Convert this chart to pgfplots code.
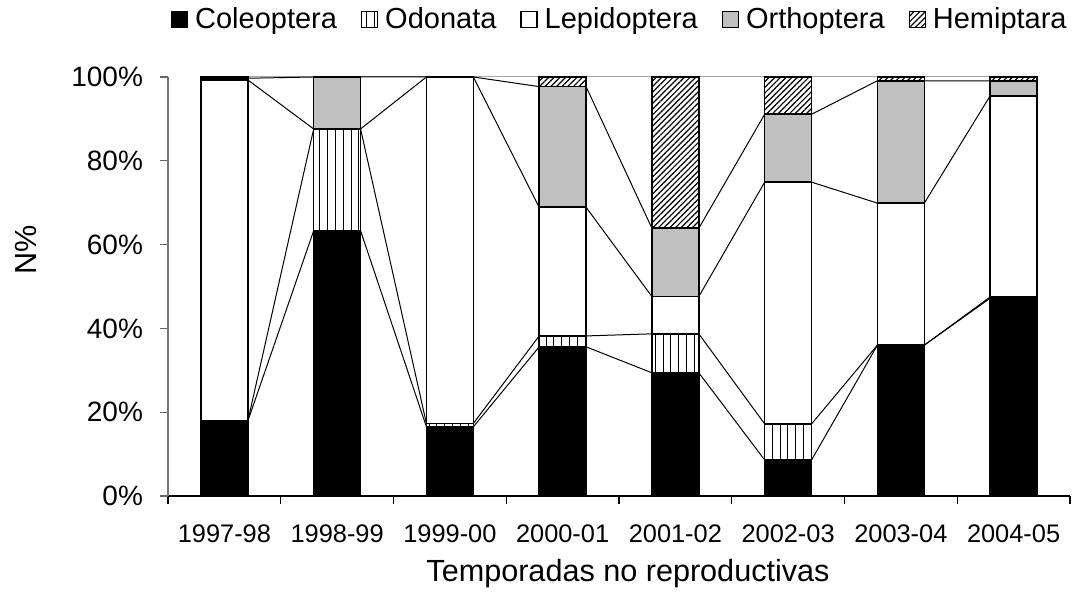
\documentclass[border=0pt]{standalone}
\usepackage{pgfplots}
\usepackage{pgfplotstable}
\pgfplotsset{compat=1.18}
\usetikzlibrary{patterns.meta}
\usepackage{fontspec}
\setmainfont{Liberation Sans}

\definecolor{orth}{HTML}{C0C0C0}

\pgfplotstableread{
x C O L Or H
0 17.9 0 81.4 0.4 0.3
1 63.3 24.3 0 12.4 0
2 16.5 0.8 82.7 0 0
3 35.6 2.6 30.7 28.8 2.3
4 29.4 9.3 8.9 16.3 36.1
5 8.6 8.6 57.7 16.2 8.9
6 36.0 0 33.9 29.2 0.9
7 47.2 0.3 48.0 3.6 0.9
}\data

% cumulative tops at the left and right edges of each bar (series lines)
\pgfplotstableread{
x c1 c2 c3 c4 c5
-0.208 17.9 17.9 99.3 99.7 100
0.208 17.9 17.9 99.3 99.7 100
0.792 63.3 87.6 87.6 100 100
1.208 63.3 87.6 87.6 100 100
1.792 16.5 17.3 100 100 100
2.208 16.5 17.3 100 100 100
2.792 35.6 38.2 68.9 97.7 100
3.208 35.6 38.2 68.9 97.7 100
3.792 29.4 38.7 47.6 63.9 100
4.208 29.4 38.7 47.6 63.9 100
4.792 8.6 17.2 74.9 91.1 100
5.208 8.6 17.2 74.9 91.1 100
5.792 36.0 36.0 69.9 99.1 100
6.208 36.0 36.0 69.9 99.1 100
6.792 47.2 47.5 95.5 99.1 100
7.208 47.2 47.5 95.5 99.1 100
}\cum

\pgfplotsset{
  common/.style={
    scale only axis,
    width=451pt, height=209.5pt,
    xmin=-0.5, xmax=7.5, ymin=0, ymax=100,
    at={(0,0)}, anchor=south west,
  }
}

\begin{document}
\begin{tikzpicture}
\useasboundingbox (-84pt,-48pt) rectangle (457pt,248pt);
% series lines
\begin{axis}[common, hide axis]
\addplot[black, line width=0.5pt] table[x=x,y=c1] {\cum};
\addplot[black, line width=0.5pt] table[x=x,y=c2] {\cum};
\addplot[black, line width=0.5pt] table[x=x,y=c3] {\cum};
\addplot[black, line width=0.5pt] table[x=x,y=c4] {\cum};
\addplot[black, line width=0.5pt] table[x=x,y=c5] {\cum};
\end{axis}
% bars
\begin{axis}[common,
  ybar stacked, bar width=0.416,
  axis x line*=bottom, axis y line*=left,
  x axis line style={-, black, line width=0.6pt},
  y axis line style={-, black!55, line width=0.6pt},
  xtick={0,...,7},
  xticklabels={1997-98,1998-99,1999-00,2000-01,2001-02,2002-03,2003-04,2004-05},
  major x tick style={draw=none},
  minor xtick={-0.5,0.5,...,7.5},
  minor x tick style={black, line width=0.6pt},
  minor tick length=4pt,
  ytick={0,20,...,100},
  major tick length=4pt,
  y tick style={black!60, line width=0.6pt},
  tick align=outside,
  /pgf/number format/assume math mode=true,
  yticklabel={\pgfmathprintnumber{\tick}\%},
  yticklabel style={font=\fontsize{14}{16}\selectfont, xshift=-5pt},
  xticklabel style={font=\fontsize{12.7}{15}\selectfont, yshift=-7pt},
  xlabel={Temporadas no reproductivas},
  ylabel={N\%},
  label style={font=\fontsize{15.3}{18}\selectfont},
  xlabel style={at={(axis description cs:0.51,-0.186)}, anchor=center},
  ylabel style={at={(axis description cs:-0.158,0.587)}, anchor=center},
  legend columns=-1,
  legend style={draw=none, fill=none, at={(0.502,1)}, anchor=south, yshift=20.5pt,
    font=\fontsize{14.5}{16}\selectfont, inner sep=0pt,
    /tikz/every odd column/.append style={column sep=1.5pt},
    /tikz/every even column/.append style={column sep=10pt}},
  legend image code/.code={\draw[#1, line width=0.6pt] (0pt,-4pt) rectangle (8pt,4pt);},
  every axis plot/.append style={draw=black, line width=0.8pt},
]
\addplot[fill=black] table[x=x,y=C] {\data};
\addplot[fill=white, postaction={pattern={Lines[angle=90,distance=3.9pt,line width=0.5pt]}}] table[x=x,y=O] {\data};
\addplot[fill=white] table[x=x,y=L] {\data};
\addplot[fill=orth] table[x=x,y=Or] {\data};
\addplot[fill=white, postaction={pattern={Lines[angle=45,distance=2pt,line width=0.6pt]}}] table[x=x,y=H] {\data};
\legend{Coleoptera,Odonata,Lepidoptera,Orthoptera,Hemiptara}
\end{axis}
\end{tikzpicture}
\end{document}
